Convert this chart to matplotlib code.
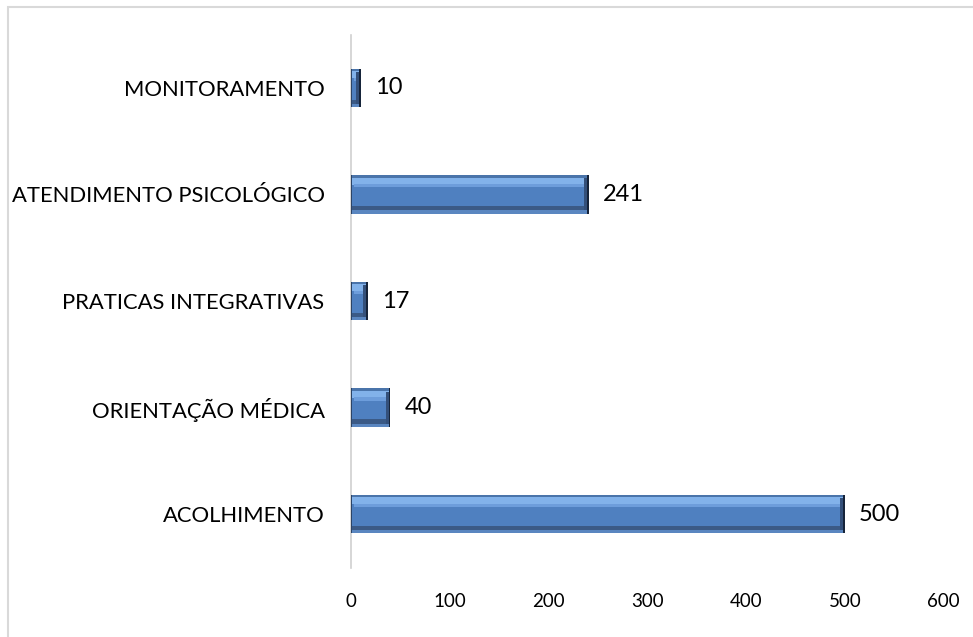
import numpy as np
import matplotlib.pyplot as plt
from matplotlib.patches import Rectangle

# data (bottom to top)
categories = ["ACOLHIMENTO", "ORIENTAÇÃO MÉDICA", "PRATICAS INTEGRATIVAS",
              "ATENDIMENTO PSICOLÓGICO", "MONITORAMENTO"]
values = [500, 40, 17, 241, 10]
x_ticks = [0, 100, 200, 300, 400, 500, 600]

plt.rcParams['font.family'] = ['Lato', 'DejaVu Sans']

fig = plt.figure(figsize=(9.73, 6.37), dpi=100)
ax = fig.add_axes([0.3607, 0.1091, 0.6093, 0.8367])

# outer chart frame (right/bottom edges fall outside the picture)
fig.patches.append(Rectangle((8 / 973, -0.05), 1.2, 1 - 7 / 637 + 0.05,
                             transform=fig.transFigure, fill=False,
                             edgecolor="#d9d9d9", linewidth=1.5))

y = np.arange(len(categories))
v = np.array(values, dtype=float)
h = 0.36

# bevelled bars built up in layers
ax.barh(y, v, height=h, color="#4f80c0", edgecolor="none", zorder=2)
ax.barh(y + h / 2 - 0.012, v, height=0.024, color="#4a74aa", zorder=3)
ax.barh(y + h / 2 - 0.055, v - 3, left=1.5, height=0.065, color="#82b2ea", zorder=3)
ax.barh(y + h / 2 - 0.1, v - 6, left=3, height=0.03, color="#6d9ddb", zorder=3)
ax.barh(y - h / 2 + 0.05, v - 3, left=1.5, height=0.04, color="#3b5a86", zorder=3)
ax.barh(y - h / 2 + 0.015, v, height=0.03, color="#5a86c0", zorder=3)
ax.barh(y, np.full_like(v, 2.0), left=v - 2.0, height=h, color="#16243a", zorder=4)
ax.barh(y, np.full_like(v, 3.0), left=v - 5.0, height=h - 0.06, color="#34507a", zorder=4)
ax.barh(y, np.full_like(v, 1.5), left=0, height=h, color="#2c4466", zorder=4)

for yi, val in zip(y, values):
    ax.annotate(str(val), (val, yi), xytext=(10, 0), textcoords="offset points",
                ha="left", va="center", fontsize=17, color="#000000")

ax.set_xlim(0, 600)
ax.set_ylim(-0.5, len(categories) - 0.5)
ax.set_xticks(x_ticks)
ax.set_yticks(y)
ax.set_yticklabels(categories)
ax.tick_params(axis="x", length=0, pad=18, labelsize=13.5)
ax.tick_params(axis="y", length=0, pad=19, labelsize=15.8)

for side in ["top", "right", "bottom"]:
    ax.spines[side].set_visible(False)
ax.spines["left"].set_color("#d0d0d0")
ax.spines["left"].set_linewidth(1.2)

fig.savefig("out.png", dpi=100)
